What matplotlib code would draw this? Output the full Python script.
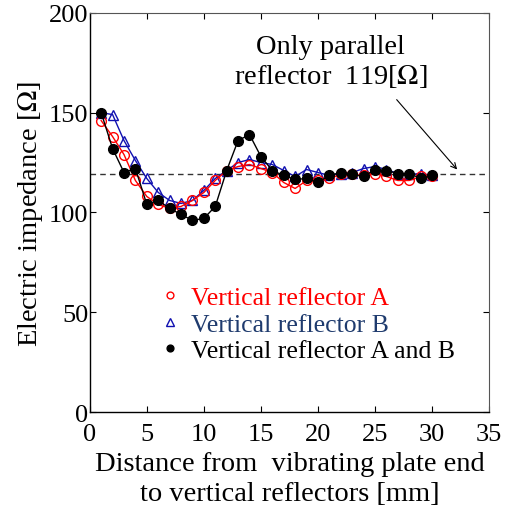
import matplotlib
matplotlib.use("Agg")
import matplotlib.pyplot as plt

plt.rcParams['font.family'] = ['Liberation Serif', 'DejaVu Serif']
plt.rcParams['mathtext.fontset'] = 'stix'

# distance [mm]
dist = list(range(1, 31))

# Vertical reflector A (red, open circles)
imp_a = [146, 138, 129, 116, 108, 104, 102, 103, 106, 110,
         116, 121, 123, 124, 122, 120, 115, 112, 116, 116,
         117, 119, 119, 118.5, 119.5, 118, 116, 116, 118, 118]
# Vertical reflector B (blue, open triangles)
imp_b = [150, 149, 136, 126, 117, 110, 106, 104.5, 106, 111,
         117, 121, 125, 126.5, 125, 124, 121, 118, 121.5, 120,
         118.5, 119.5, 120, 122, 123, 121.5, 119.5, 119, 119.5, 118.5]
# Vertical reflector A and B (black, filled circles)
imp_ab = [150, 132, 120, 122, 104, 106, 102, 99, 96, 97,
          103, 121, 136, 139, 128, 121, 118.5, 116.5, 117, 115,
          118.5, 120, 119, 118, 121.5, 121, 119.5, 119.5, 117, 118.5]

parallel_only = 119

fig = plt.figure(figsize=(5.1, 5.1), dpi=100)
ax = fig.add_axes([0.176, 0.19, 0.783, 0.783])

ax.axhline(parallel_only, color='#333333', ls=(0, (4, 3)), lw=1.0, zorder=1)

ax.plot(dist, imp_a, color='red', lw=1.0, marker='o', ms=7, mfc='none',
        mec='red', mew=1.0, label='Vertical reflector A', zorder=3)
ax.plot(dist, imp_b, color='#1010b0', lw=1.0, marker='^', ms=7.5, mfc='none',
        mec='#1010b0', mew=1.0, label='Vertical reflector B', zorder=2)
ax.plot(dist, imp_ab, color='black', lw=1.0, marker='o', ms=7, mfc='black',
        mec='black', label='Vertical reflector A and B', zorder=4)

ax.set_xlim(0, 35)
ax.set_ylim(0, 200)
ax.set_xticks(range(0, 36, 5))
ax.set_yticks(range(0, 201, 50))
ax.tick_params(direction='in', top=True, right=True, labelsize=19, length=4)
ax.tick_params(axis='x', pad=8)
ax.tick_params(axis='y', pad=1)
for s in ['top', 'right']:
    ax.spines[s].set_color('#555555')
    ax.spines[s].set_linewidth(0.8)
for s in ['left', 'bottom']:
    ax.spines[s].set_linewidth(1.0)

ax.set_xlabel('Distance from  vibrating plate end\nto vertical reflectors [mm]',
              fontsize=20.5, labelpad=4, linespacing=1.27)
ax.set_ylabel('Electric impedance [$\\Omega$]', fontsize=20.5, labelpad=3)

ax.text(21.1, 175.5, 'Only parallel\nreflector  119[$\\Omega$]', ha='center',
        va='center', fontsize=20.5, linespacing=1.15)
ax.annotate('', xy=(32.2, 121.5), xytext=(26.9, 156.5),
            arrowprops=dict(arrowstyle='->', color='black', lw=0.8,
                            shrinkA=0, shrinkB=0))

ax.legend(loc='center left', bbox_to_anchor=(0.14, 0.22), frameon=False,
          fontsize=18.5, markerscale=0.7, handlelength=0.5, handletextpad=0.55,
          labelspacing=0.14, borderpad=0.2,
          labelcolor=['red', '#1f3b6e', 'black'])
for h in ax.get_legend().legend_handles:
    h.set_linestyle('none')

fig.savefig('out.png', dpi=100)
